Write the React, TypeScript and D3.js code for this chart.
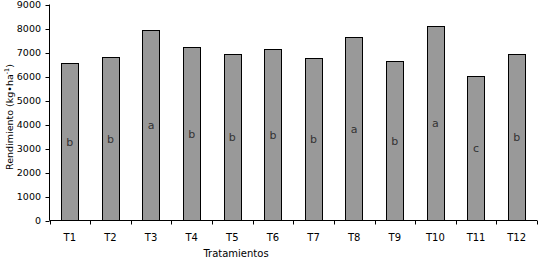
import React from "react";
import * as d3 from "d3";

const categories = ["T1", "T2", "T3", "T4", "T5", "T6", "T7", "T8", "T9", "T10", "T11", "T12"];
const yields = [6550, 6800, 7925, 7217, 6925, 7133, 6758, 7633, 6633, 8092, 6008, 6925];
const groups = ["b", "b", "a", "b", "b", "b", "b", "a", "b", "a", "c", "b"];
const yTicks = [0, 1000, 2000, 3000, 4000, 5000, 6000, 7000, 8000, 9000];

const W = 538;
const H = 258;
const left = 49.5;
const right = 537;
const top = 4.5;
const bottom = 220.5;
const FONT = "'DejaVu Sans', Tahoma, Verdana, sans-serif";

export default function App() {
  const x = d3
    .scaleBand<string>()
    .domain(categories)
    .range([left, right])
    .paddingInner(0.57)
    .paddingOuter(0.285);
  const y = d3.scaleLinear().domain([0, 9000]).range([bottom, top]);
  const gap = (x.step() - x.bandwidth()) / 2;
  const boundaries = categories.map((c) => (x(c) as number) - gap).concat([right]);

  return (
    <svg
      width={W}
      height={H}
      style={{ position: "absolute", left: 0, top: 0, background: "#fff" }}
      fontFamily={FONT}
    >
      <rect x={0} y={0} width={W} height={H} fill="#fff" />
      {categories.map((c, i) => {
        const bx = Math.round(x(c) as number) + 0.5;
        const by = Math.round(y(yields[i])) + 0.5;
        const bw = Math.round(x.bandwidth());
        return (
          <g key={c}>
            <rect x={bx} y={by} width={bw} height={bottom - by} fill="#999999" stroke="#000" strokeWidth={1} />
            <text
              x={(x(c) as number) + x.bandwidth() / 2}
              y={y(yields[i] / 2)}
              dy="0.35em"
              textAnchor="middle"
              fontSize={11}
              fill="#333"
            >
              {groups[i]}
            </text>
          </g>
        );
      })}
      {/* y axis */}
      <line x1={left} x2={left} y1={top} y2={bottom} stroke="#000" />
      {yTicks.map((t) => (
        <g key={t}>
          <line x1={left - 4} x2={left} y1={Math.round(y(t)) + 0.5} y2={Math.round(y(t)) + 0.5} stroke="#000" />
          <text x={41} y={y(t)} dy="0.35em" textAnchor="end" fontSize={9.5} fill="#000">
            {t}
          </text>
        </g>
      ))}
      {/* x axis */}
      <line x1={left} x2={right} y1={bottom} y2={bottom} stroke="#000" />
      {boundaries.map((b, i) => (
        <line key={i} x1={Math.round(b) + 0.5} x2={Math.round(b) + 0.5} y1={bottom} y2={bottom + 4} stroke="#000" />
      ))}
      {categories.map((c) => (
        <text
          key={c}
          x={(x(c) as number) + x.bandwidth() / 2}
          y={241}
          textAnchor="middle"
          fontSize={10}
          fill="#000"
        >
          {c}
        </text>
      ))}
      <text x={236} y={257} textAnchor="middle" fontSize={10} fill="#000">
        Tratamientos
      </text>
      <text transform="translate(13,117) rotate(-90)" textAnchor="middle" fontSize={9.5} fill="#000">
        Rendimiento (kg•ha
        <tspan fontSize={6.5} dy={-4}>
          -1
        </tspan>
        <tspan dy={4}>)</tspan>
      </text>
    </svg>
  );
}
